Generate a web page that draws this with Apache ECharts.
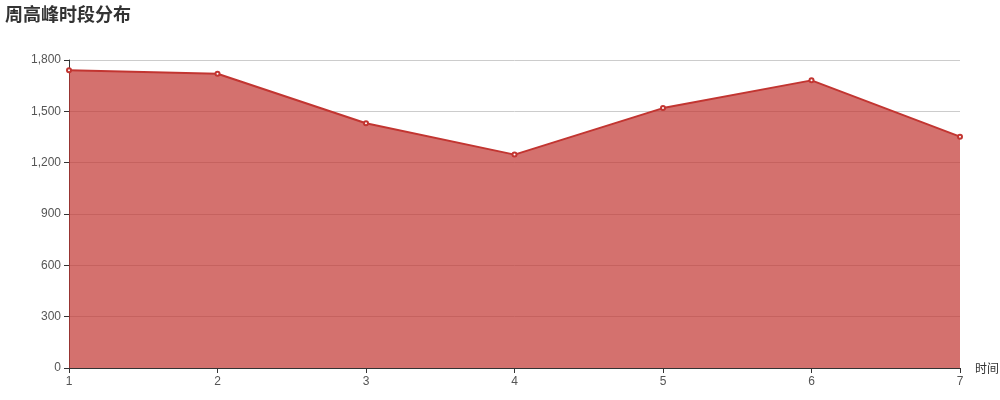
<!DOCTYPE html>
<html>
<head>
<meta charset="utf-8">
<script src="https://cdn.jsdelivr.net/npm/echarts@6/dist/echarts.min.js"></script>
<style>
  html, body { margin: 0; padding: 0; background: #fff; }
  #chart { width: 1000px; height: 400px; }
</style>
</head>
<body>
<div id="chart"></div>
<script>
const days = ['1', '2', '3', '4', '5', '6', '7']
const peakCounts = [1740, 1720, 1430, 1247, 1519, 1681, 1352]

const chart = echarts.init(document.getElementById('chart'))
chart.setOption({
  animation: false,
  title: {
    text: '周高峰时段分布',
    left: 0,
    top: 0,
    textStyle: { fontSize: 18, fontWeight: 'bold', color: '#333', fontFamily: 'Noto Sans CJK SC' },
  },
  grid: { left: 69, right: 40, top: 60, bottom: 32, containLabel: false, outerBoundsMode: 'none' },
  xAxis: {
    type: 'category',
    data: days,
    boundaryGap: false,
    name: '时间',
    nameGap: 15,
    nameTextStyle: { color: '#333', fontSize: 12, fontFamily: 'Noto Sans CJK SC' },
    axisLine: { lineStyle: { color: '#333' } },
    axisTick: { show: true, alignWithLabel: true, lineStyle: { color: '#333' } },
    axisLabel: { color: '#555', fontSize: 12, margin: 8 },
  },
  yAxis: {
    type: 'value',
    min: 0,
    max: 1800,
    interval: 300,
    axisLine: { show: true, lineStyle: { color: '#333' } },
    axisTick: { show: true, lineStyle: { color: '#333' } },
    axisLabel: { color: '#555', fontSize: 12, margin: 8 },
    splitLine: { show: true, lineStyle: { color: '#ccc' } },
  },
  series: [
    {
      type: 'line',
      data: peakCounts,
      symbol: 'emptyCircle',
      symbolSize: 4,
      itemStyle: { color: '#c23531' },
      lineStyle: { color: '#c23531', width: 2 },
      areaStyle: { color: '#c23531', opacity: 0.7 },
    },
  ],
})
</script>
</body>
</html>
